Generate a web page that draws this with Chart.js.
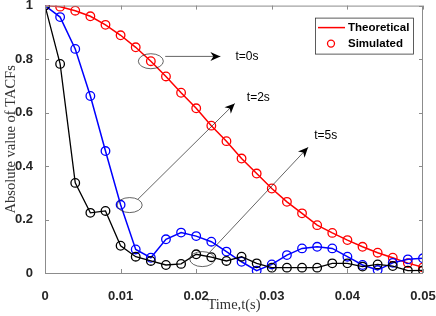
<!DOCTYPE html>
<html>
<head>
<meta charset="utf-8">
<script src="https://cdn.jsdelivr.net/npm/chart.js@4/dist/chart.umd.min.js"></script>
<style>
  html, body { margin: 0; padding: 0; background: #fff; }
</style>
</head>
<body>
<canvas id="c" width="436" height="316"></canvas>
<script>
// Datos
const times = [0, 0.002, 0.004, 0.006, 0.008, 0.010, 0.012, 0.014, 0.016, 0.018,
  0.020, 0.022, 0.024, 0.026, 0.028, 0.030, 0.032, 0.034, 0.036, 0.038,
  0.040, 0.042, 0.044, 0.046, 0.048, 0.050];

const tacf0s = [1.0, 0.996, 0.981, 0.96, 0.928, 0.889, 0.844, 0.792, 0.735, 0.674,
  0.616, 0.551, 0.493, 0.428, 0.372, 0.316, 0.266, 0.223, 0.179, 0.150,
  0.123, 0.098, 0.076, 0.057, 0.037, 0.021];

const tacf2s = [1.0, 0.957, 0.838, 0.662, 0.456, 0.255, 0.088, 0.057, 0.126, 0.151,
  0.138, 0.117, 0.080, 0.042, 0.009, 0.032, 0.067, 0.092, 0.098, 0.092,
  0.061, 0.030, 0.011, 0.038, 0.051, 0.055];

const tacf5s = [1.0, 0.782, 0.337, 0.225, 0.232, 0.102, 0.061, 0.045, 0.030, 0.034,
  0.070, 0.059, 0.045, 0.061, 0.036, 0.020, 0.020, 0.020, 0.020, 0.036,
  0.036, 0.024, 0.032, 0.026, 0.009, 0.010];

const xTicks = [0, 0.01, 0.02, 0.03, 0.04, 0.05];
const yTicks = [0, 0.2, 0.4, 0.6, 0.8, 1];

const legendLabels = ['Theoretical', 'Simulated'];

// anotaciones en coordenadas de datos: elipse, flecha (desde, hasta), texto
const notes = [
  { label: 't=0s', ell: [0.014, 0.792], from: [0.0159, 0.81], to: [0.0232, 0.81], text: [0.0252, 0.81] },
  { label: 't=2s', ell: [0.0112, 0.254], from: [0.0123, 0.276], to: [0.0251, 0.634], text: [0.0267, 0.657] },
  { label: 't=5s', ell: [0.0208, 0.052], from: [0.0218, 0.078], to: [0.0348, 0.47], text: [0.0356, 0.515] }
];

function pts(ys) {
  return times.map((t, i) => ({ x: t, y: ys[i] }));
}

function arrowHead(ctx, x0, y0, x1, y1) {
  const a = Math.atan2(y1 - y0, x1 - x0);
  const L = 10, W = 4.5, back = 7;
  ctx.save();
  ctx.translate(x1, y1);
  ctx.rotate(a);
  ctx.beginPath();
  ctx.moveTo(0, 0);
  ctx.lineTo(-L, -W);
  ctx.lineTo(-back, 0);
  ctx.lineTo(-L, W);
  ctx.closePath();
  ctx.fill();
  ctx.restore();
}

// marco, ticks hacia dentro, anotaciones y leyenda
const extras = {
  id: 'extras',
  afterDatasetsDraw(chart) {
    const ctx = chart.ctx;
    const a = chart.chartArea;
    const xs = chart.scales.x, ys = chart.scales.y;

    ctx.save();
    ctx.strokeStyle = '#8c8c8c';
    ctx.lineWidth = 1;
    ctx.strokeRect(a.left + 0.5, a.top + 0.5, a.right - a.left - 1, a.bottom - a.top);
    ctx.beginPath();
    xTicks.forEach(v => {
      const px = Math.round(xs.getPixelForValue(v)) + 0.5;
      ctx.moveTo(px, a.bottom); ctx.lineTo(px, a.bottom - 4);
      ctx.moveTo(px, a.top); ctx.lineTo(px, a.top + 4);
    });
    yTicks.forEach(v => {
      const py = Math.round(ys.getPixelForValue(v)) + 0.5;
      ctx.moveTo(a.left, py); ctx.lineTo(a.left + 4, py);
      ctx.moveTo(a.right, py); ctx.lineTo(a.right - 4, py);
    });
    ctx.stroke();

    // anotaciones
    ctx.strokeStyle = '#222';
    ctx.fillStyle = '#000';
    ctx.font = '12px "Liberation Sans", Arial, sans-serif';
    ctx.textBaseline = 'middle';
    notes.forEach(n => {
      const ex = xs.getPixelForValue(n.ell[0]), ey = ys.getPixelForValue(n.ell[1]);
      ctx.lineWidth = 0.7;
      ctx.beginPath();
      ctx.ellipse(ex, ey, 12.5, 7.5, 0, 0, Math.PI * 2);
      ctx.stroke();
      const x0 = xs.getPixelForValue(n.from[0]), y0 = ys.getPixelForValue(n.from[1]);
      const x1 = xs.getPixelForValue(n.to[0]), y1 = ys.getPixelForValue(n.to[1]);
      ctx.beginPath();
      ctx.moveTo(x0, y0); ctx.lineTo(x1, y1);
      ctx.stroke();
      arrowHead(ctx, x0, y0, x1, y1);
      ctx.fillText(n.label, xs.getPixelForValue(n.text[0]), ys.getPixelForValue(n.text[1]));
    });

    // leyenda
    const lx = a.right - 108, ly = a.top + 12, lw = 98, lh = 36;
    ctx.fillStyle = '#fff';
    ctx.fillRect(lx, ly, lw, lh);
    ctx.strokeStyle = '#333';
    ctx.lineWidth = 0.8;
    ctx.strokeRect(lx + 0.5, ly + 0.5, lw, lh);
    ctx.strokeStyle = '#ff0000';
    ctx.lineWidth = 1.5;
    ctx.beginPath();
    ctx.moveTo(lx + 3, ly + 10); ctx.lineTo(lx + 30, ly + 10);
    ctx.stroke();
    ctx.lineWidth = 1.3;
    ctx.beginPath();
    ctx.arc(lx + 16, ly + 26, 3.5, 0, Math.PI * 2);
    ctx.stroke();
    ctx.fillStyle = '#000';
    ctx.font = 'bold 11.5px "Liberation Sans", Arial, sans-serif';
    ctx.fillText(legendLabels[0], lx + 33, ly + 10);
    ctx.fillText(legendLabels[1], lx + 33, ly + 26);
    ctx.restore();
  }
};

const tickFont = { family: '"Liberation Sans", Arial, sans-serif', size: 13, weight: 'bold' };
const titleFont = { family: '"Liberation Serif", "DejaVu Serif", serif', size: 14.5 };

new Chart(document.getElementById('c'), {
  type: 'line',
  data: {
    datasets: [
      {
        label: legendLabels[0], data: pts(tacf0s), borderColor: '#ff0000', borderWidth: 1.5,
        pointRadius: 0, order: 3
      },
      {
        label: legendLabels[1], data: pts(tacf0s), showLine: false, borderColor: '#ff0000',
        backgroundColor: 'rgba(0,0,0,0)', pointRadius: 4.3, pointBorderWidth: 1.3, order: 2
      },
      {
        label: 't=2s', data: pts(tacf2s), borderColor: '#0000ff', borderWidth: 1.5,
        backgroundColor: 'rgba(0,0,0,0)', pointRadius: 4.3, pointBorderWidth: 1.3, order: 1
      },
      {
        label: 't=5s', data: pts(tacf5s), borderColor: '#000000', borderWidth: 1.3,
        backgroundColor: 'rgba(0,0,0,0)', pointRadius: 4.3, pointBorderWidth: 1.3, order: 0
      }
    ]
  },
  options: {
    responsive: false,
    animation: false,
    layout: { padding: { top: 5, right: 13, left: 0, bottom: 0 } },
    plugins: { legend: { display: false }, tooltip: { enabled: false } },
    scales: {
      x: {
        type: 'linear', min: 0, max: 0.05,
        afterBuildTicks: s => { s.ticks = xTicks.map(v => ({ value: v })); },
        afterFit: s => { s.height = 43; s.paddingLeft = 0; s.paddingRight = 0; },
        grid: { display: false }, border: { display: false },
        ticks: {
          font: tickFont, color: '#262626', padding: 8, maxRotation: 0,
          callback: v => (v === 0 ? '0' : v.toFixed(2))
        },
        title: { display: true, text: 'Time,t(s)', font: titleFont, color: '#333', padding: 2 }
      },
      y: {
        min: 0, max: 1,
        afterBuildTicks: s => { s.ticks = yTicks.map(v => ({ value: v })); },
        afterFit: s => { s.width = 45; s.paddingTop = 0; s.paddingBottom = 0; },
        grid: { display: false }, border: { display: false },
        ticks: {
          font: tickFont, color: '#262626', padding: 4,
          callback: v => (v === 0 ? '0' : v === 1 ? '1' : v.toFixed(1))
        },
        title: { display: true, text: 'Absolute value of TACFs', font: titleFont, color: '#333', padding: 2 }
      }
    }
  },
  plugins: [extras]
});
</script>
</body>
</html>
